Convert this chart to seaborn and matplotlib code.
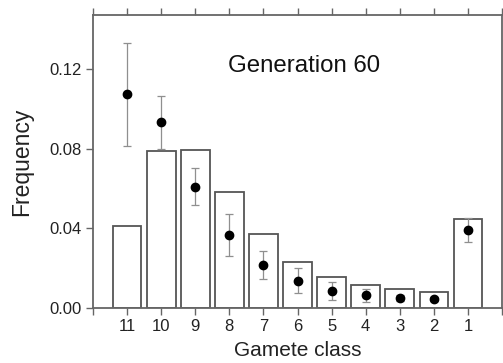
import numpy as np
import pandas as pd
import matplotlib
matplotlib.use("Agg")
import matplotlib.pyplot as plt
import seaborn as sns

# Gamete classes, expected frequencies (bars) and observed means with error
classes = ["11", "10", "9", "8", "7", "6", "5", "4", "3", "2", "1"]
expected = [0.0413, 0.0790, 0.0795, 0.0580, 0.0370, 0.0232, 0.0156, 0.0117, 0.0094, 0.0079, 0.0445]
observed = [0.1072, 0.0932, 0.0609, 0.0366, 0.0216, 0.0137, 0.0087, 0.0064, 0.0052, 0.0045, 0.0391]
obs_err = [0.0260, 0.0133, 0.0092, 0.0106, 0.0068, 0.0063, 0.0045, 0.0032, 0.0015, 0.0012, 0.0060]
y_ticks = [0.00, 0.04, 0.08, 0.12]

sns.set_theme(style="ticks")
plt.rcParams["font.family"] = ["Liberation Sans", "DejaVu Sans"]

df = pd.DataFrame({"cls": classes, "expected": expected,
                   "observed": observed, "err": obs_err})

fig = plt.figure(figsize=(5.03, 3.63), dpi=100)
ax = fig.add_axes([0.185, 0.1515, 0.813, 0.807])

edge = "#555555"
sns.barplot(data=df, x="cls", y="expected", order=classes, color="white",
            edgecolor=edge, linewidth=1.3, width=0.84, ax=ax)

xpos = np.arange(len(classes))
ax.errorbar(xpos, df["observed"], yerr=df["err"], fmt="o", color="black",
            markersize=6, ecolor="#8f8f8f", elinewidth=0.9, capsize=3.2,
            capthick=0.9, zorder=5)

ax.set_xlim(-1, len(classes))
ax.set_ylim(0, 0.147)
ax.set_yticks(y_ticks)
ax.set_yticklabels([f"{v:.2f}" for v in y_ticks])
ax.set_xticks(xpos)
ax.set_xticklabels(classes)
ax.set_xticks([-1, len(classes)], minor=True)

for s in ax.spines.values():
    s.set_color("#666666")
    s.set_linewidth(1.3)
ax.tick_params(axis="both", which="both", direction="out", color="#666666",
               length=5, width=1.0, labelsize=12, pad=3, labelcolor="#222222")
ax.tick_params(axis="x", which="both", top=True)

ax.set_xlabel("Gamete class", fontsize=15, color="#222222", labelpad=5)
ax.set_ylabel("Frequency", fontsize=16.5, color="#222222", labelpad=12)
ax.text(0.515, 0.825, "Generation 60", transform=ax.transAxes, fontsize=17.3,
        color="#111111", ha="center", va="center")

fig.savefig("out.png", dpi=100)
